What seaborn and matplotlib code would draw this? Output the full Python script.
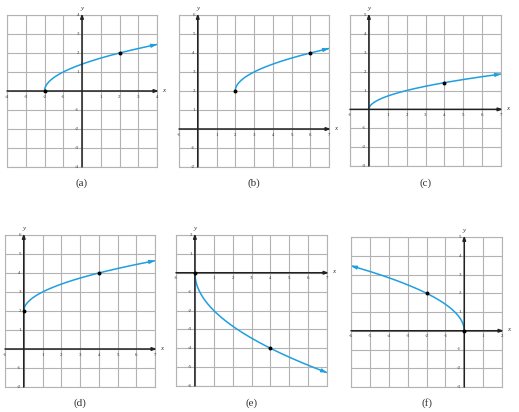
import numpy as np
import pandas as pd
import matplotlib
matplotlib.use("Agg")
import matplotlib.pyplot as plt
import seaborn as sns

sns.set_style("white")
plt.rcParams['font.family'] = ['Liberation Serif', 'DejaVu Serif']

# panel data
letters = ['a', 'b', 'c', 'd', 'e', 'f']
xlims = [(-4, 4), (-1, 7), (-1, 7), (-1, 7), (-1, 7), (-6, 2)]
ylims = [(-4, 4), (-2, 6), (-3, 5), (-2, 6), (-6, 2), (-3, 5)]
# curve domain (start, end) -- arrow drawn at end
domains = [(-2, 4), (2, 7), (0, 7), (0, 7), (0, 7), (0, -6)]
funcs = [
    lambda x: np.sqrt(x + 2),
    lambda x: np.sqrt(x - 2) + 2,
    lambda x: np.sqrt(x / 2),
    lambda x: np.sqrt(x) + 2,
    lambda x: -2 * np.sqrt(x),
    lambda x: np.sqrt(-2 * x),
]
# marked points
pts_x = [[-2, 2], [2, 6], [4], [0, 4], [0, 4], [0, -2]]
pts_y = [[0, 2], [2, 4], [np.sqrt(2)], [2, 4], [0, -4], [0, 2]]

# axes boxes in pixels: left, right, top, bottom
W, H = 519, 412
boxes = [(7, 157, 15, 167), (179, 329, 15, 167), (350, 501, 15, 166),
         (5, 155, 235, 387), (176, 327, 235, 386), (351, 502, 237, 387)]
cap_y = [183, 183, 183, 403, 403, 403]

blue = '#1f9fdf'
grid_c = '#b3b3b3'
ax_arrow = '-|>,head_length=0.25,head_width=0.09'
crv_arrow = '-|>,head_length=0.3,head_width=0.1'

fig = plt.figure(figsize=(W / 100, H / 100), dpi=100)

for i, L in enumerate(letters):
    l, r, t, b = boxes[i]
    ax = fig.add_axes([l / W, (H - b) / H, (r - l) / W, (b - t) / H])
    x0, x1 = xlims[i]
    y0, y1 = ylims[i]
    ax.set_xlim(x0, x1)
    ax.set_ylim(y0, y1)
    ax.set_xticks(range(x0, x1 + 1))
    ax.set_yticks(range(y0, y1 + 1))
    ax.grid(True, color=grid_c, lw=0.8)
    ax.tick_params(length=0, labelbottom=False, labelleft=False)
    for s in ax.spines.values():
        s.set_color(grid_c)
        s.set_linewidth(0.8)

    # main axes with arrows
    ax.annotate('', xy=(x1 + 0.1, 0), xytext=(x0, 0),
                arrowprops=dict(arrowstyle=ax_arrow, color='#222222', lw=1.1,
                                shrinkA=0, shrinkB=0),
                annotation_clip=False)
    ax.annotate('', xy=(0, y1 + 0.08), xytext=(0, y0),
                arrowprops=dict(arrowstyle=ax_arrow, color='#222222', lw=1.1,
                                shrinkA=0, shrinkB=0),
                annotation_clip=False)
    ax.text(x1 + 0.35, 0.05, 'x', style='italic', fontsize=5, ha='center', va='center',
            color='#333333', clip_on=False)
    ax.text(0, y1 + 0.35, 'y', style='italic', fontsize=5, ha='center', va='center',
            color='#333333', clip_on=False)

    # tick labels
    for v in range(x0, x1 + 1):
        if v != 0:
            ax.text(v, -0.3, str(v), fontsize=3.5, ha='center', va='center',
                    color='#333333', clip_on=False)
    for v in range(y0, y1 + 1):
        if v != 0:
            ax.text(-0.15, v, str(v), fontsize=3.5, ha='right', va='center',
                    color='#333333', clip_on=False)

    # curve
    d0, d1 = domains[i]
    xs = np.linspace(d0, d1, 400)
    df = pd.DataFrame({'x': xs, 'y': funcs[i](xs)})
    sns.lineplot(data=df, x='x', y='y', ax=ax, color=blue, lw=1.1, sort=False,
                 estimator=None)
    ax.annotate('', xy=(df['x'].iloc[-1], df['y'].iloc[-1]),
                xytext=(df['x'].iloc[-12], df['y'].iloc[-12]),
                arrowprops=dict(arrowstyle=crv_arrow, color=blue, lw=1.0,
                                shrinkA=0, shrinkB=0))
    sns.scatterplot(x=pts_x[i], y=pts_y[i], ax=ax, color='black', s=8,
                    edgecolor='black', linewidth=0, zorder=5)
    ax.set_xlabel('')
    ax.set_ylabel('')

    fig.text(((l + r) / 2) / W, 1 - cap_y[i] / H, '(%s)' % L, fontsize=8,
             ha='center', va='center', color='#333333')

fig.savefig('out.png', dpi=100)
